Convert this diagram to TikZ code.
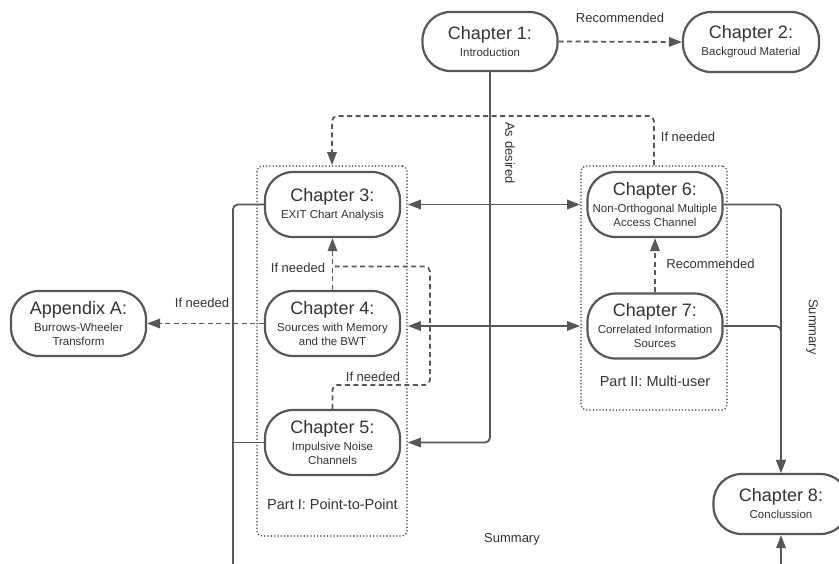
\documentclass[tikz,border=0pt]{standalone}
\usepackage{fontspec}
\setmainfont{Liberation Sans}
\usetikzlibrary{arrows.meta,calc}
\definecolor{ink}{HTML}{333333}
\definecolor{edge}{HTML}{575757}
% chapter box text: big title, small subtitle
\newcommand\chtext[2]{{\fontsize{18}{20}\selectfont #1}\\[3pt]#2}
\begin{document}
\begin{tikzpicture}[x=1pt,y=-1pt,
  chap/.style={draw=edge, line width=2.2pt, rounded corners=28pt,
    minimum width=135pt, minimum height=65pt, align=center, inner sep=0pt,
    text=ink, font=\fontsize{11.5}{14}\selectfont},
  partbox/.style={draw=edge, line width=1.8pt, dash pattern=on 0pt off 3.3pt,
    line cap=round, rounded corners=5pt, inner sep=0pt},
  tip/.style={-{Triangle[length=13pt,width=9.5pt]}},
  line/.style={draw=edge, line width=1.8pt},
  conn/.style={line, tip},
  biconn/.style={line, {Triangle[length=13pt,width=9.5pt]}-{Triangle[length=13pt,width=9.5pt]}},
  dline/.style={line, dash pattern=on 5pt off 3.5pt},
  dconn/.style={dline, tip},
  lbl/.style={text=ink, font=\fontsize{13}{15}\selectfont, inner sep=0pt},
  partlbl/.style={text=ink, font=\fontsize{14.5}{16}\selectfont, inner sep=0pt}
]
\useasboundingbox (0,0) rectangle (839,563);
\clip (0,0) rectangle (839,563);

% part containers
\node[partbox, minimum width=150pt, minimum height=370pt] (p1) at (332,351) {};
\node[partbox, minimum width=146pt, minimum height=244pt] (p2) at (654,288) {};
\node[partlbl] (p1l) at (332.5,504) {Part I: Point-to-Point};
\node[partlbl] (p2l) at (655,381) {Part II: Multi-user};

% chapters
\node[chap, minimum height=59pt] (ch1) at (490,41.5) {\chtext{Chapter 1:}{Introduction}};
\node[chap, minimum width=136pt, minimum height=60pt] (ch2) at (751,42) {\chtext{Chapter 2:}{Backgroud Material}};
\node[chap] (ch3) at (332.5,204.5) {\chtext{Chapter 3:}{EXIT Chart Analysis}};
\node[chap] (ch4) at (332.5,323.5) {\chtext{Chapter 4:}{Sources with Memory\\and the BWT}};
\node[chap] (ch5) at (332.5,442.5) {\chtext{Chapter 5:}{Impulsive Noise\\Channels}};
\node[chap] (appA) at (78.5,323.5) {\chtext{Appendix A:}{Burrows-Wheeler\\Transform}};
\node[chap] (ch6) at (655,204.5) {\chtext{Chapter 6:}{Non-Orthogonal Multiple\\Access Channel}};
\node[chap] (ch7) at (655,326) {\chtext{Chapter 7:}{Correlated Information\\Sources}};
\node[chap, minimum height=60pt] (ch8) at (781,504) {\chtext{Chapter 8:}{Conclussion}};

% helper points
\coordinate (m43) at ($(ch3.south)!0.55!(ch4.north)$);
\coordinate (low) at (0,590);

% connectors
\draw[dconn] (ch1.east) -- (ch2.west)
  node[lbl] (l12) at (620,18) {Recommended};
\draw[conn, rounded corners=5pt] (ch1.south) |- (p1.east |- ch5.center)
  node[lbl, rotate=-90] (l15) at (510,153) {As desired};
\draw[dconn, rounded corners=5pt] (p2.north) -- ++(0,-49) -| (p1.north)
  node[lbl] (l63) at (688,137) {If needed};
\draw[biconn] (p1.east |- ch3.center) -- (p2.west |- ch3.center);
\draw[biconn] (p1.east |- ch7.center) -- (p2.west |- ch7.center);
\draw[dconn] (ch4.west) -- (appA.east)
  node[lbl] (l4a) at (202,303) {If needed};
\draw[dconn] (ch4.north) -- (ch3.south)
  node[lbl] (l43) at (298,268) {If needed};
\draw[dline, rounded corners=5pt] (ch5.north) -- ++(0,-24)
  -| ([xshift=22pt]p1.east |- m43) -- (m43)
  node[lbl] (l53) at (373,377) {If needed};
\draw[dconn] (ch7.north) -- (ch6.south)
  node[lbl] (l76) at (710.5,264) {Recommended};
\draw[conn, rounded corners=5pt] (ch6.east) -| (ch8.north);
\draw[conn, rounded corners=5pt] (ch7.east) -| (ch8.north)
  node[lbl, rotate=-90] (ls1) at (812,327) {Summary};
\draw[conn, rounded corners=5pt] (ch3.west) -| ([xshift=-31pt]ch3.west |- low) -| (ch8.south)
  node[lbl] (ls2) at (512,539) {Summary};
\draw[line] (ch5.west) -- ([xshift=-31pt]ch3.west |- ch5.west);
\end{tikzpicture}
\end{document}
